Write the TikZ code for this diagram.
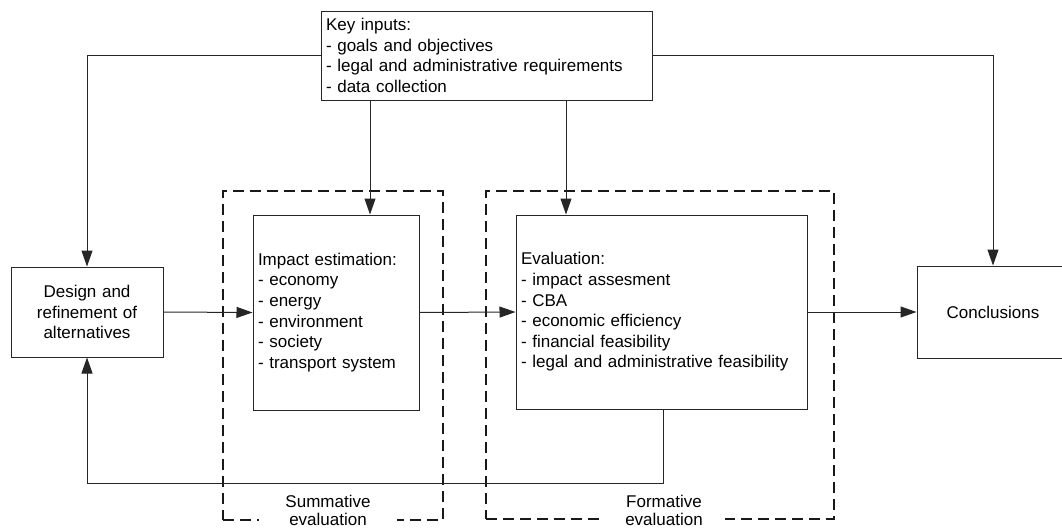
\documentclass[tikz,border=0pt]{standalone}
\usepackage{fontspec}
\setmainfont{Liberation Sans}
\usetikzlibrary{arrows.meta,calc}
\begin{document}
\begin{tikzpicture}[x=1pt,y=-1pt,
  every node/.style={font=\fontsize{17}{20.6}\selectfont},
  box/.style={draw=black!85,line width=1pt,rectangle,inner xsep=5pt,inner ysep=0pt,align=left},
  cbox/.style={draw=black!85,line width=1pt,rectangle,inner xsep=4pt,inner ysep=0pt,align=center},
  dashbox/.style={draw=black!90,line width=1.1pt,dash pattern=on 11pt off 6pt,rectangle,inner sep=0pt},
  lbl/.style={fill=white,inner sep=0pt,align=center,font=\fontsize{17}{18}\selectfont},
  conn/.style={draw=black!85,line width=1pt},
  arr/.style={conn,-{Triangle[length=16pt,width=11pt]}}
]
\useasboundingbox (0,0) rectangle (1062,530);

% dashed groups
\node[dashbox,minimum width=220,minimum height=329] (sumbox) at (333,355.5) {};
\node[dashbox,minimum width=348,minimum height=328] (formbox) at (660,355) {};
\node[lbl,minimum width=138,minimum height=40] (sumlbl) at (328,510) {Summative\\evaluation};
\node[lbl,minimum width=122,minimum height=40] (formlbl) at (664,510) {Formative\\evaluation};

% boxes
\node[box,text width=321,minimum height=89] (key) at (486.5,55.5)
  {Key inputs:\\- goals and objectives\\- legal and administrative requirements\\- data collection};
\node[cbox,text width=144,minimum height=90] (design) at (87,312)
  {Design and\\refinement of\\alternatives};
\node[box,text width=156,minimum height=195] (impact) at (336,312.5)
  {Impact estimation:\\- economy\\- energy\\- environment\\- society\\- transport system};
\node[box,text width=281,minimum height=194] (eval) at (661.5,312)
  {Evaluation:\\- impact assesment\\- CBA\\- economic efficiency\\- financial feasibility\\- legal and administrative feasibility};
\node[cbox,text width=144,minimum height=92] (concl) at (993,312) {Conclusions};

% helper coordinates
\coordinate (ximp) at (370,0);
\coordinate (xev) at (566,0);
\coordinate (xfb) at (663,0);
\coordinate (yfb) at (0,483);

% connectors
\draw[arr] (key.west) -| (design.north);
\draw[arr] (key.east) -| (concl.north);
\draw[arr] (key.south -| ximp) -- (impact.north -| ximp);
\draw[arr] (key.south -| xev) -- (eval.north -| xev);
\draw[arr] (design.east) -- (impact.west);
\draw[arr] (impact.east) -- (eval.west);
\draw[arr] (eval.east) -- (concl.west);
\draw[arr] (eval.south -| xfb) -- (xfb |- yfb) -| (design.south);
\end{tikzpicture}
\end{document}
